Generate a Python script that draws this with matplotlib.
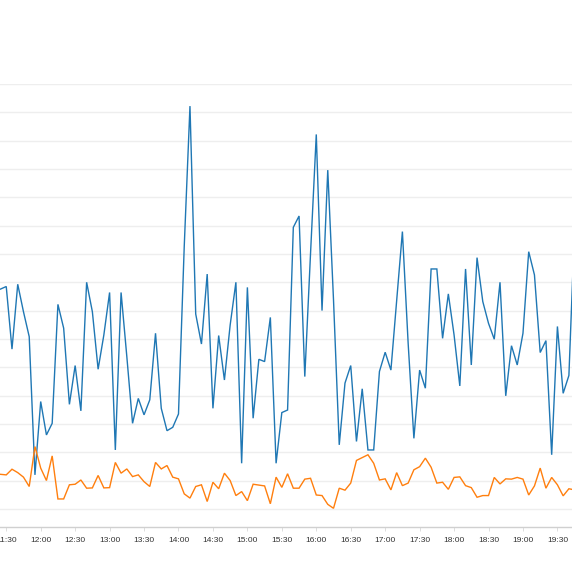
import matplotlib
matplotlib.use("Agg")
import matplotlib.pyplot as plt
import numpy as np

# time of first sample (minutes after midnight) and sampling step in minutes
start_minute = 11 * 60 + 25
step_minutes = 5

series_a = [7.76, 7.85, 5.64, 7.93, 6.96, 6.08, 1.20, 3.79, 2.61, 3.02,
            7.22, 6.38, 3.69, 5.06, 3.46, 8.00, 6.96, 4.93, 6.14, 7.64,
            2.08, 7.64, 5.38, 3.02, 3.90, 3.32, 3.85, 6.20, 3.55, 2.76,
            2.88, 3.35, 9.26, 14.22, 6.88, 5.82, 8.29, 3.55, 6.12, 4.55,
            6.49, 8.00, 1.61, 7.82, 3.20, 5.28, 5.20, 6.76, 1.61, 3.40,
            3.49, 9.94, 10.34, 4.67, 9.02, 13.22, 7.00, 11.96, 7.38, 2.26,
            4.44, 5.06, 2.38, 4.24, 2.08, 2.08, 4.85, 5.53, 4.90, 7.35,
            9.79, 5.85, 2.49, 4.90, 4.26, 8.47, 8.47, 6.02, 7.59, 6.14,
            4.34, 8.47, 5.08, 8.87, 7.32, 6.55, 5.99, 8.00, 3.99, 5.76,
            5.08, 6.20, 9.08, 8.26, 5.52, 5.94, 1.91, 6.44, 4.08, 4.71,
            10.0]

series_b = [1.22, 1.20, 1.40, 1.28, 1.12, 0.79, 2.20, 1.44, 1.00, 1.87,
            0.35, 0.35, 0.85, 0.87, 1.02, 0.73, 0.74, 1.18, 0.74, 0.75,
            1.64, 1.26, 1.41, 1.14, 1.20, 0.96, 0.79, 1.64, 1.41, 1.53,
            1.12, 1.06, 0.53, 0.38, 0.79, 0.85, 0.26, 0.94, 0.71, 1.26,
            1.00, 0.47, 0.61, 0.29, 0.87, 0.84, 0.81, 0.18, 1.12, 0.76,
            1.24, 0.73, 0.73, 1.05, 1.08, 0.49, 0.47, 0.16, 0.02, 0.73,
            0.66, 0.91, 1.71, 1.81, 1.91, 1.61, 1.02, 1.06, 0.67, 1.28,
            0.82, 0.91, 1.38, 1.49, 1.79, 1.47, 0.91, 0.94, 0.69, 1.11,
            1.13, 0.82, 0.75, 0.41, 0.47, 0.47, 1.11, 0.88, 1.06, 1.05,
            1.11, 1.05, 0.49, 0.81, 1.44, 0.73, 1.11, 0.85, 0.46, 0.71,
            0.67]

tick_labels = ["11:30", "12:00", "12:30", "13:00", "13:30", "14:00", "14:30",
               "15:00", "15:30", "16:00", "16:30", "17:00", "17:30", "18:00",
               "18:30", "19:00", "19:30"]

x = start_minute + step_minutes * np.arange(len(series_a))
tick_pos = [int(t.split(":")[0]) * 60 + int(t.split(":")[1]) for t in tick_labels]

plt.rcParams['font.family'] = ['Liberation Sans', 'DejaVu Sans']

fig = plt.figure(figsize=(5.72, 5.72), dpi=100)
H = 572.0
ax = fig.add_axes([0, (H - 527) / H, 1, (527 - 84) / H])

ax.plot(x, series_a, color="#1f77b4", lw=1.0, solid_joinstyle="miter")
ax.plot(x, series_b, color="#ff7f0e", lw=1.0, solid_joinstyle="miter")

ax.set_yticks(np.arange(0, 16, 1))
ax.yaxis.grid(True, color="#eeeeee", lw=1.0)
ax.set_axisbelow(True)
ax.tick_params(axis="y", left=False, labelleft=False)

ax.set_xticks(tick_pos)
ax.set_xticklabels(tick_labels)
ax.tick_params(axis="x", length=3, width=0.7, color="#dddddd",
               labelsize=6, labelcolor="#333333", pad=4.5)

ax.set_xlim(684.56, 1182.7)
ax.set_ylim(-0.64, 15.0)

for s in ["top", "left", "right"]:
    ax.spines[s].set_visible(False)
ax.spines["bottom"].set_color("#d0d0d0")
ax.spines["bottom"].set_linewidth(1.0)

fig.savefig("out.png", dpi=100)
